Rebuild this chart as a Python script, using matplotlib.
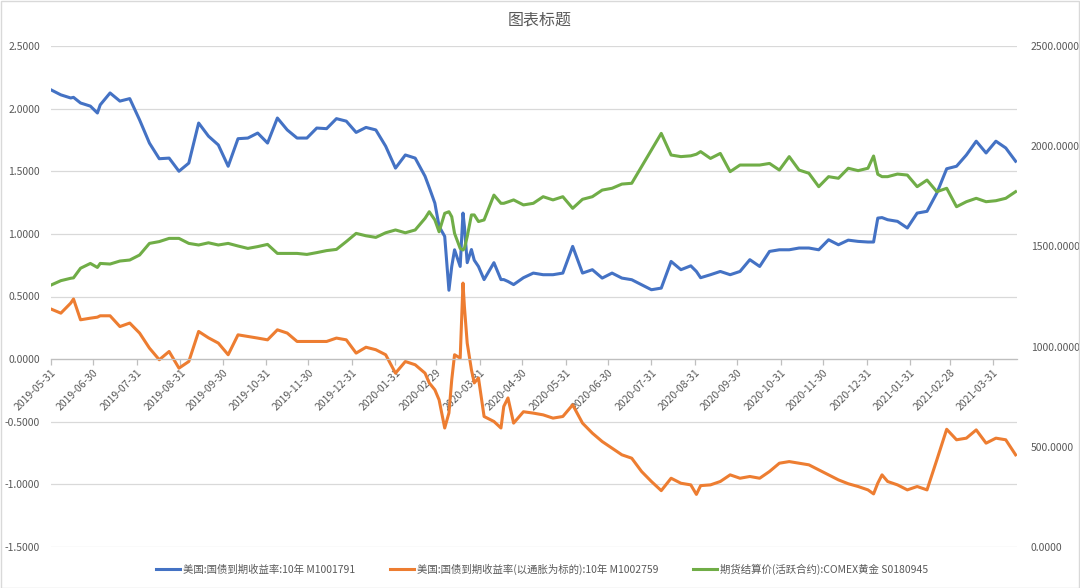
import matplotlib
matplotlib.use('Agg')
import matplotlib.pyplot as plt
import matplotlib.dates as mdates
from matplotlib.patches import Rectangle
from matplotlib.ticker import FormatStrFormatter
import pandas as pd
import numpy as np

plt.rcParams['font.family'] = ['Noto Sans CJK SC', 'DejaVu Sans']

# days after 2019-05-31 (weekly, plus extra points where the lines turn sharply)
start = pd.Timestamp('2019-05-31')
extra_days = [16, 33, 269, 276, 283, 285, 291, 293, 296, 299, 304, 320, 325, 459, 585, 591]
days = sorted(list(range(0, 687, 7)) + extra_days)
dates = start + pd.to_timedelta(days, unit='D')

# 美国:国债到期收益率:10年
us10y = [2.15, 2.11, 2.085, 2.09, 2.045, 2.02, 1.965, 2.03, 2.125, 2.06, 2.08, 1.91,
         1.725, 1.60, 1.605, 1.50, 1.565, 1.885, 1.78, 1.71, 1.54, 1.76,
         1.765, 1.805, 1.725, 1.925, 1.83, 1.765, 1.765, 1.845, 1.84, 1.92,
         1.90, 1.81, 1.85, 1.83, 1.70, 1.525, 1.63, 1.605, 1.46,
         1.37, 1.245, 1.06, 0.98, 0.55, 0.74, 0.873, 0.74, 1.166, 1.06, 0.77, 0.875, 0.79, 0.74, 0.635,
         0.77, 0.635, 0.635, 0.62, 0.595, 0.65, 0.687, 0.674, 0.674, 0.687, 0.90, 0.687,
         0.714, 0.647, 0.687, 0.647, 0.634, 0.594, 0.554, 0.567, 0.78, 0.714,
         0.745, 0.70, 0.65, 0.674, 0.70, 0.674, 0.70, 0.794, 0.74, 0.86, 0.873,
         0.873, 0.887, 0.887, 0.873, 0.953, 0.913, 0.95, 0.94, 0.935,
         0.935,
         1.126, 1.13, 1.113, 1.10, 1.047, 1.166, 1.18, 1.326, 1.52, 1.54, 1.63, 1.74, 1.646, 1.74, 1.686, 1.58]

# 美国:国债到期收益率(以通胀为标的):10年
tips10y = [0.40, 0.367, 0.447, 0.48, 0.314, 0.327, 0.335, 0.346, 0.346, 0.26, 0.288, 0.208,
           0.088, -0.005, 0.061, -0.072, -0.019, 0.221, 0.17, 0.128, 0.035, 0.194,
           0.181, 0.168, 0.154, 0.234, 0.208, 0.141, 0.141, 0.141, 0.141, 0.168,
           0.154, 0.048, 0.095, 0.075, 0.035, -0.112, -0.019, -0.045, -0.112,
           -0.19, -0.245, -0.325, -0.55, -0.43, -0.165, 0.035, 0.008, 0.607, 0.42, 0.128, -0.085, -0.19, -0.15, -0.458,
           -0.498, -0.55, -0.378, -0.31, -0.511, -0.42, -0.431, -0.445, -0.471, -0.458, -0.365, -0.511,
           -0.591, -0.658, -0.711, -0.764, -0.791, -0.897, -0.977, -1.05, -0.951, -0.991,
           -1.004, -1.08, -1.01, -1.004, -0.977, -0.924, -0.951, -0.937, -0.951, -0.897, -0.831,
           -0.818, -0.831, -0.844, -0.884, -0.924, -0.964, -0.995, -1.017, -1.044,
           -1.076,
           -0.99, -0.924, -0.977, -1.004, -1.044, -1.017, -1.044, -0.804, -0.56, -0.644, -0.631, -0.565, -0.671, -0.631, -0.644, -0.764]

# 期货结算价(活跃合约):COMEX黄金
gold = [1307, 1329, 1341, 1343, 1391, 1415, 1395, 1415, 1412, 1427, 1432, 1457,
        1515, 1524, 1540, 1540, 1515, 1507, 1518, 1507, 1515, 1502,
        1490, 1499, 1510, 1465, 1465, 1465, 1460, 1469, 1479, 1485,
        1524, 1565, 1553, 1545, 1568, 1582, 1568, 1582, 1640,
        1673, 1632, 1573, 1665, 1673, 1648, 1565, 1490, 1482, 1490, 1549, 1657, 1657, 1624, 1632,
        1756, 1715, 1715, 1722, 1732, 1707, 1715, 1748, 1732, 1748, 1690, 1735,
        1748, 1781, 1790, 1811, 1815, 1898, 1981, 2064, 1956, 1948,
        1952, 1960, 1973, 1939, 1964, 1873, 1906, 1906, 1906, 1914, 1881,
        1948, 1881, 1865, 1798, 1848, 1840, 1890, 1878, 1890,
        1951,
        1860, 1848, 1848, 1861, 1856, 1798, 1831, 1773, 1790, 1698, 1723, 1740, 1723, 1728, 1740, 1773]

labels = ['美国:国债到期收益率:10年 M1001791',
          '美国:国债到期收益率(以通胀为标的):10年 M1002759',
          '期货结算价(活跃合约):COMEX黄金 S0180945']
colors = ['#4472C4', '#ED7D31', '#70AD47']
month_ends = pd.date_range('2019-05-31', '2021-03-31', freq='ME')

txt = '#595959'
grid = '#D9D9D9'

fig = plt.figure(figsize=(10.8, 5.88), dpi=100)
ax = fig.add_axes([51/1080, 1-547/588, (1017-51)/1080, (547-46)/588])
ax2 = ax.twinx()

l1, = ax.plot(dates, us10y, color=colors[0], lw=2.2, solid_joinstyle='round')
l2, = ax.plot(dates, tips10y, color=colors[1], lw=2.2, solid_joinstyle='round')
l3, = ax2.plot(dates, gold, color=colors[2], lw=2.2, solid_joinstyle='round')

ax.set_ylim(-1.5, 2.5)
ax.set_yticks(np.arange(-1.5, 2.51, 0.5))
ax.yaxis.set_major_formatter(FormatStrFormatter('%.4f'))
ax2.set_ylim(0, 2500)
ax2.set_yticks(np.arange(0, 2501, 500))
ax2.yaxis.set_major_formatter(FormatStrFormatter('%.4f'))
ax.set_xlim(start, start + pd.Timedelta(days=687))

ax.grid(axis='y', color=grid, lw=0.9)
ax.grid(axis='x', visible=False)
ax.set_axisbelow(True)
for s in ['top', 'left', 'right']:
    ax.spines[s].set_visible(False)
for s in ax2.spines.values():
    s.set_visible(False)
ax.spines['bottom'].set_position(('data', 0))
ax.spines['bottom'].set_color('#BFBFBF')
ax.spines['bottom'].set_linewidth(0.9)

ax.set_xticks(month_ends)
ax.xaxis.set_major_formatter(mdates.DateFormatter('%Y-%m-%d'))
ax.tick_params(axis='x', colors='#BFBFBF', length=4, width=0.9, labelsize=7.5,
               labelcolor=txt, pad=2)
for lab in ax.get_xticklabels():
    lab.set_rotation(45)
    lab.set_ha('right')
    lab.set_rotation_mode('anchor')
ax.tick_params(axis='y', length=0, labelsize=7.5, labelcolor=txt, pad=8)
ax2.tick_params(axis='y', length=0, labelsize=7.5, labelcolor=txt, pad=10)

fig.text(0.5, 1-20/588, '图表标题', ha='center', va='center', fontsize=11.5, color=txt)

fig.legend([l1, l2, l3], labels, loc='center', bbox_to_anchor=(0.502, 1-569/588),
           ncol=3, frameon=False, fontsize=7.5, handlelength=2.3, handletextpad=0.3,
           columnspacing=3.3, labelcolor=txt)

fig.add_artist(Rectangle((0.0005, 0.0008), 0.999, 0.998, transform=fig.transFigure,
                         fill=False, edgecolor=grid, lw=1))

fig.savefig('out.png', dpi=100)
